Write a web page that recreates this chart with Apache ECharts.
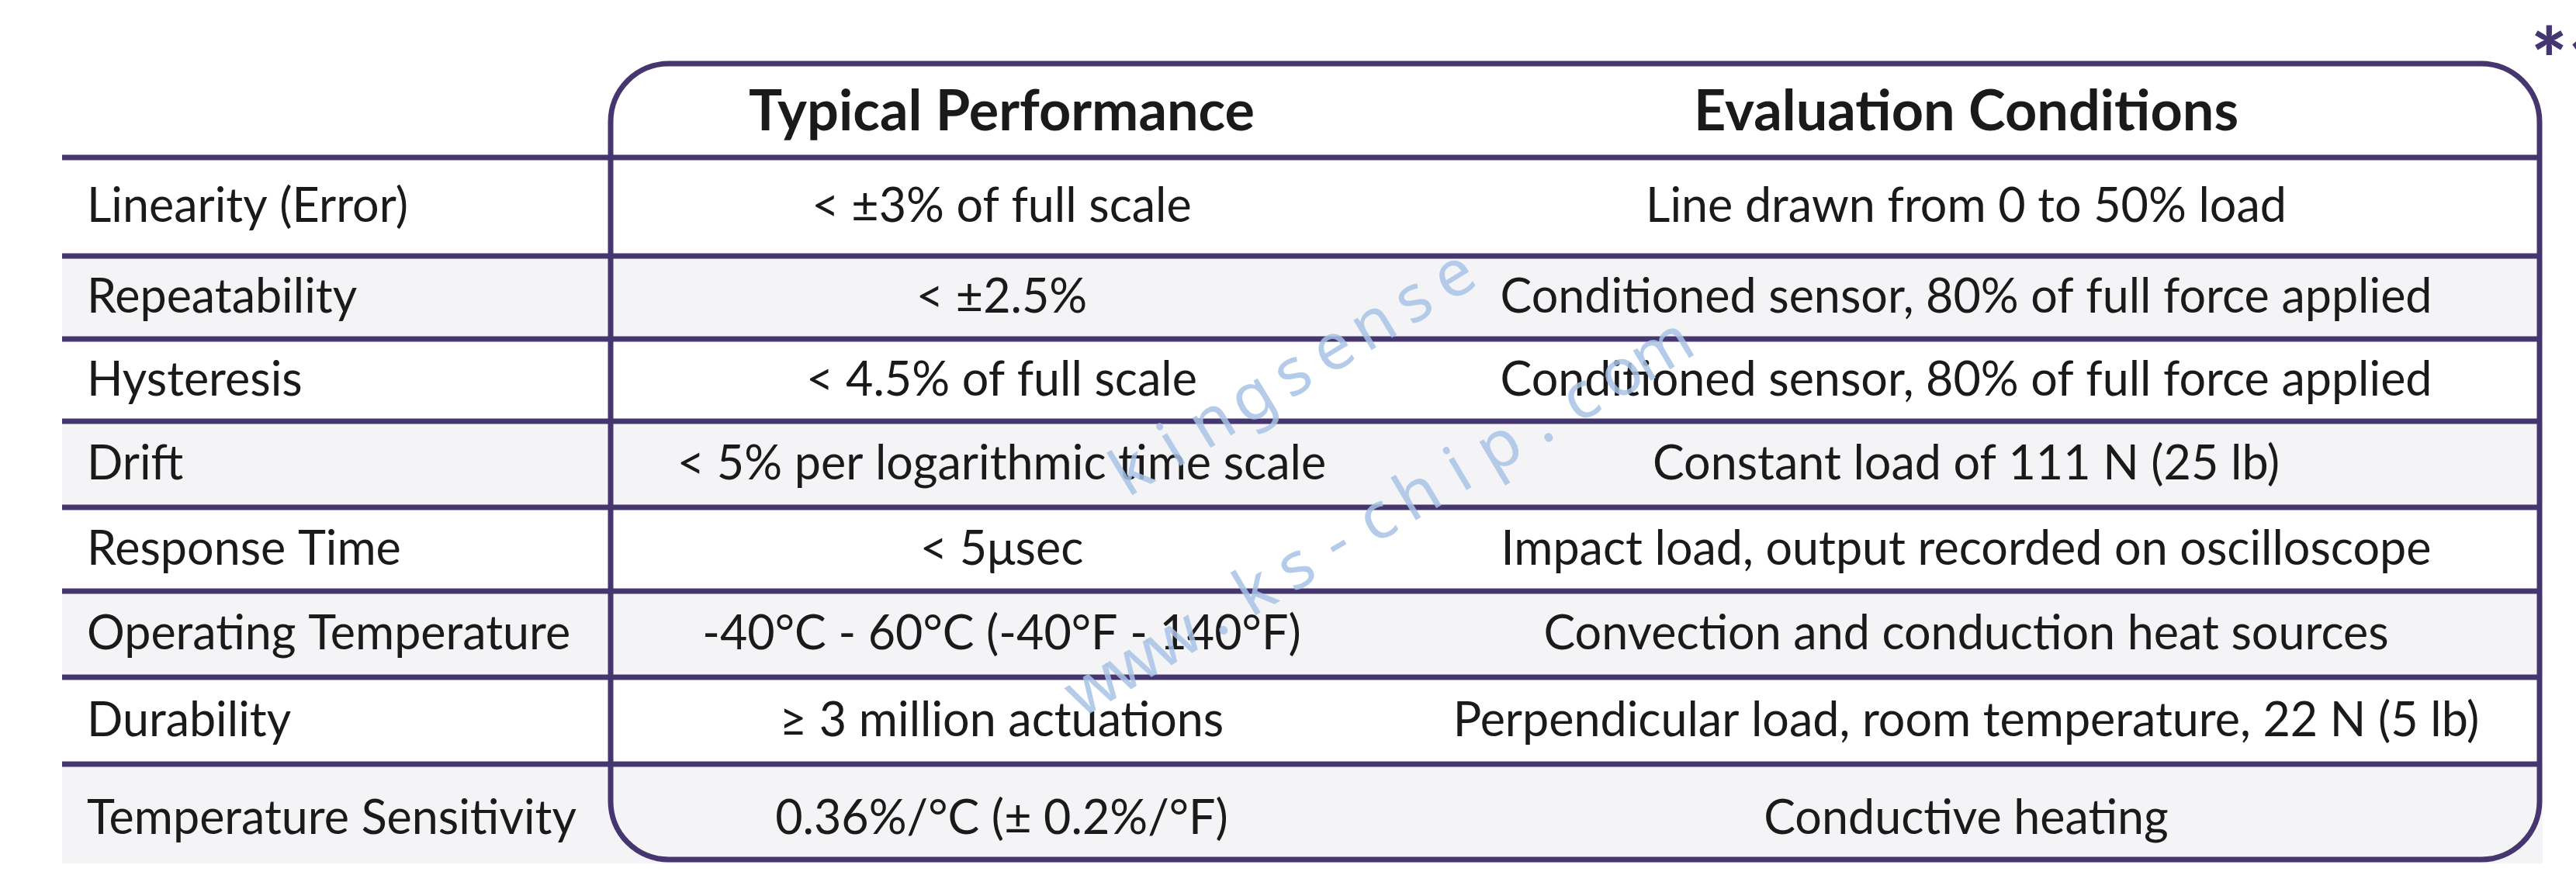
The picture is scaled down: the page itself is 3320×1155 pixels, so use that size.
<!DOCTYPE html>
<html lang="en">
<head>
<meta charset="UTF-8">
<title>Typical Performance</title>
<script src="https://cdn.jsdelivr.net/npm/echarts@6/dist/echarts.min.js"></script>
<style>
    html, body { margin: 0; padding: 0; background: #fff; }
    #main { width: 3320px; height: 1155px; }
</style>
</head>
<body>
<div id="main"></div>
<script>
    // table content
    var headers = ['', 'Typical Performance', 'Evaluation Conditions'];
    var parameters = ['Linearity (Error)', 'Repeatability', 'Hysteresis', 'Drift', 'Response Time',
        'Operating Temperature', 'Durability', 'Temperature Sensitivity'];
    var performance = ['< ±3% of full scale', '< ±2.5%', '< 4.5% of full scale',
        '< 5% per logarithmic time scale', '< 5μsec', '-40°C - 60°C (-40°F - 140°F)',
        '≥ 3 million actuations', '0.36%/°C (± 0.2%/°F)'];
    var conditions = ['Line drawn from 0 to 50% load', 'Conditioned sensor, 80% of full force applied',
        'Conditioned sensor, 80% of full force applied', 'Constant load of 111 N (25 lb)',
        'Impact load, output recorded on oscilloscope', 'Convection and conduction heat sources',
        'Perpendicular load, room temperature, 22 N (5 lb)', 'Conductive heating'];
    var watermarks = ['kingsense', 'www.ks-chip.com'];

    // layout, in pixels of the page
    var colEdges = [80, 787, 1795, 3273];
    var rowEdges = [203, 330, 437, 543, 654, 762, 873, 985, 1113];
    var textMid = [266, 383, 490, 598, 708, 817, 929, 1055];
    var boxTop = 82, boxBottom = 1108, boxRadius = 75;
    var lineColor = '#46366f', grayRow = '#f4f4f6', ink = '#1a1a1a';
    var bodyFont = 'Lato', bodySize = 61, headSize = 72;
    // watermark start / end points of each word
    var wmPath = [[1460, 610, 1875, 358], [1410, 889, 2143, 454]];

    var chart = echarts.init(document.getElementById('main'));

    function pt(api, x, y) {
        return api.coord([x, y]);
    }

    function renderRow(params, api) {
        var i = api.value(0);
        var tl = pt(api, colEdges[0], rowEdges[i]);
        var br = pt(api, colEdges[3] + 4, rowEdges[i + 1]);
        var mid = pt(api, 0, textMid[i])[1];
        var lineL = pt(api, colEdges[0], rowEdges[i]);
        var lineR = pt(api, colEdges[3], rowEdges[i]);
        var textStyle = function (t, align) {
            return {text: t, fill: ink, fontFamily: bodyFont, fontSize: bodySize,
                align: align, verticalAlign: 'middle'};
        };
        return {
            type: 'group',
            children: [
                {type: 'rect', shape: {x: tl[0], y: tl[1], width: br[0] - tl[0], height: br[1] - tl[1]},
                    style: {fill: i % 2 ? grayRow : '#ffffff'}},
                {type: 'line', shape: {x1: lineL[0], y1: lineL[1], x2: lineR[0], y2: lineR[1]},
                    style: {stroke: lineColor, lineWidth: 7}},
                {type: 'text', x: pt(api, colEdges[0] + 32, 0)[0], y: mid,
                    style: textStyle(parameters[i], 'left')},
                {type: 'text', x: pt(api, (colEdges[1] + colEdges[2]) / 2, 0)[0], y: mid,
                    style: textStyle(performance[i], 'center')},
                {type: 'text', x: pt(api, (colEdges[2] + colEdges[3]) / 2, 0)[0], y: mid,
                    style: textStyle(conditions[i], 'center')}
            ]
        };
    }

    function renderFrame(params, api) {
        var tl = pt(api, colEdges[1], boxTop);
        var br = pt(api, colEdges[3], boxBottom);
        var headY = pt(api, 0, 145)[1];
        var kids = [
            {type: 'rect', shape: {x: tl[0], y: tl[1], width: br[0] - tl[0], height: br[1] - tl[1], r: boxRadius},
                style: {fill: 'none', stroke: lineColor, lineWidth: 7}}
        ];
        for (var c = 1; c < headers.length; c++) {
            kids.push({type: 'text', x: pt(api, (colEdges[c] + colEdges[c + 1]) / 2, 0)[0], y: headY,
                style: {text: headers[c], fill: ink, fontFamily: bodyFont, fontWeight: 'bold',
                    fontSize: headSize, align: 'center', verticalAlign: 'middle'}});
        }
        kids.push({type: 'text', x: pt(api, 3262, 0)[0], y: pt(api, 0, 82)[1],
            style: {text: '*1', fill: lineColor, fontFamily: bodyFont, fontWeight: 900,
                fontSize: 110, align: 'left', verticalAlign: 'middle'}});
        return {type: 'group', children: kids};
    }

    function renderMark(params, api) {
        var w = api.value(0);
        var word = watermarks[w], p = wmPath[w];
        var a = pt(api, p[0], p[1]), b = pt(api, p[2], p[3]);
        var ang = Math.atan2(a[1] - b[1], b[0] - a[0]);
        var kids = [];
        for (var k = 0; k < word.length; k++) {
            var f = k / (word.length - 1);
            kids.push({type: 'text', x: a[0] + (b[0] - a[0]) * f, y: a[1] + (b[1] - a[1]) * f,
                rotation: ang,
                style: {text: word[k], fill: '#a7c2e5', fontFamily: 'Noto Sans', fontSize: 84,
                    align: 'center', verticalAlign: 'middle', opacity: 0.85}});
        }
        return {type: 'group', children: kids};
    }

    var option = {
        animation: false,
        backgroundColor: '#ffffff',
        grid: {left: 0, right: 0, top: 0, bottom: 0},
        xAxis: {type: 'value', min: 0, max: 3320, show: false},
        yAxis: {type: 'value', min: 0, max: 1155, inverse: true, show: false},
        series: [
            {type: 'custom', z: 1, renderItem: renderRow,
                data: parameters.map(function (p, i) { return [i]; })},
            {type: 'custom', z: 2, renderItem: renderFrame, data: [[0]]},
            {type: 'custom', z: 3, renderItem: renderMark,
                data: watermarks.map(function (m, i) { return [i]; })}
        ]
    };

    chart.setOption(option);
</script>
</body>
</html>
